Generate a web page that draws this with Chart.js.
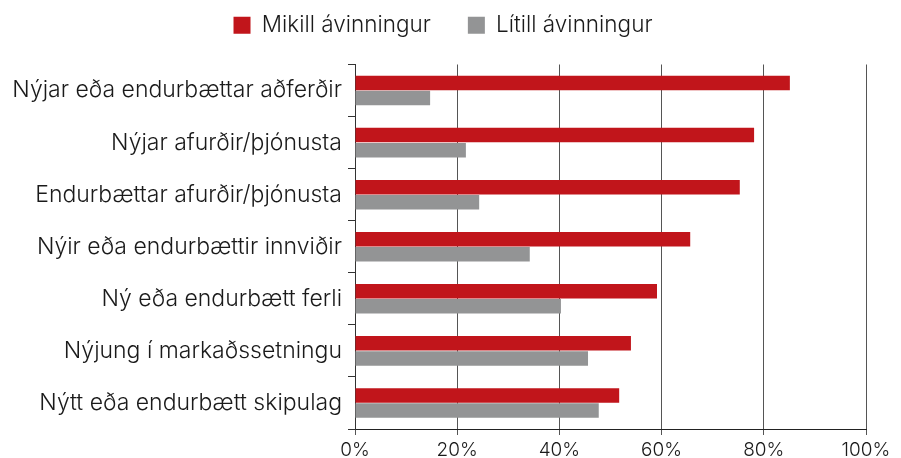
<!DOCTYPE html>
<html>
<head>
<meta charset="utf-8">
<script src="https://cdn.jsdelivr.net/npm/chart.js@4.4.0/dist/chart.umd.min.js"></script>
<style>
  html, body { margin: 0; padding: 0; background: #fff; }
  #wrap { width: 901px; height: 458px; }
</style>
</head>
<body>
<div id="wrap"><canvas id="chart"></canvas></div>
<script>
// data
const categories = [
  'Nýjar eða endurbættar aðferðir',
  'Nýjar afurðir/þjónusta',
  'Endurbættar afurðir/þjónusta',
  'Nýir eða endurbættir innviðir',
  'Ný eða endurbætt ferli',
  'Nýjung í markaðssetningu',
  'Nýtt eða endurbætt skipulag'
];
const mikill = [85.1, 78.1, 75.3, 65.6, 59.1, 54.0, 51.7];
const litill = [14.7, 21.7, 24.3, 34.2, 40.3, 45.6, 47.7];
const seriesNames = ['Mikill ávinningur', 'Lítill ávinningur'];

const RED = '#c1151b';
const GREY = '#939495';
const FONT = 'Inter';

Chart.defaults.font.family = FONT;
Chart.defaults.font.weight = 300;
Chart.defaults.color = '#1a1a1a';

// legend padding is big (item gap), so pull it up, trim the space below
// and nudge the row a bit to the right
const legendSpace = {
  id: 'legendSpace',
  beforeInit(chart) {
    const fit = chart.legend.fit;
    chart.legend.fit = function () {
      fit.bind(chart.legend)();
      this.height += 18;
      if (this.lineWidths && this.lineWidths.length) this.lineWidths[0] -= 12;
    };
  }
};

const ctx = document.getElementById('chart').getContext('2d');
new Chart(ctx, {
  type: 'bar',
  data: {
    labels: categories,
    datasets: [
      { label: seriesNames[0], data: mikill, backgroundColor: RED,
        categoryPercentage: 0.58, barPercentage: 0.96 },
      { label: seriesNames[1], data: litill, backgroundColor: GREY,
        categoryPercentage: 0.58, barPercentage: 0.96 }
    ]
  },
  options: {
    indexAxis: 'y',
    responsive: true,
    maintainAspectRatio: false,
    animation: false,
    layout: { padding: { left: 8, right: 35, top: -23, bottom: 0 } },
    plugins: {
      tooltip: { enabled: false },
      legend: {
        position: 'top',
        labels: {
          boxWidth: 17,
          boxHeight: 17,
          padding: 37,
          font: { size: 22.5, weight: 300 }
        }
      }
    },
    scales: {
      x: {
        min: 0,
        max: 100,
        ticks: {
          stepSize: 20,
          callback: v => v + '%',
          font: { size: 19, weight: 300 },
          padding: 4
        },
        grid: { color: '#555', lineWidth: 1, tickLength: 6 },
        border: { color: '#222' },
        afterFit(axis) { axis.height = 29; }
      },
      y: {
        ticks: { font: { size: 23, weight: 300 }, padding: 6 },
        grid: { offset: true, drawOnChartArea: false, tickLength: 7, color: '#333' },
        border: { color: '#333' },
        afterFit(axis) { axis.width = 355 - 8; }
      }
    }
  },
  plugins: [legendSpace]
});
</script>
</body>
</html>
